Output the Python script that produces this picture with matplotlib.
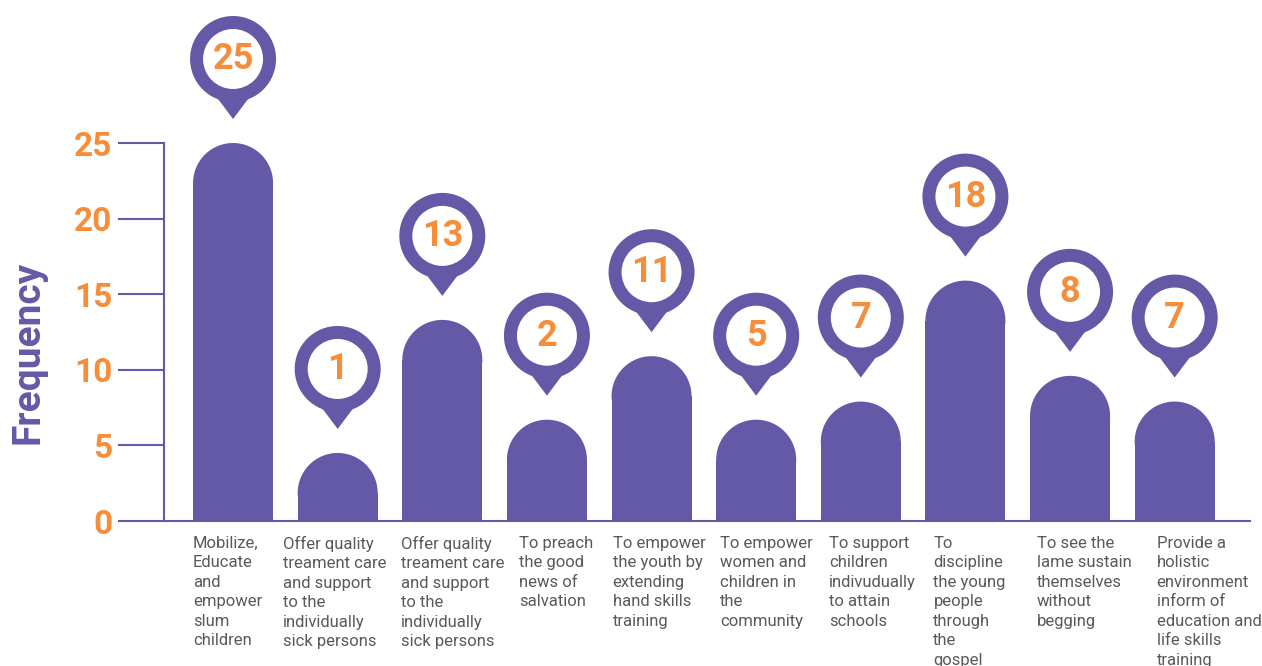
import numpy as np
import matplotlib.pyplot as plt
from matplotlib.patches import Ellipse, Polygon

purple = '#6459a6'
orange = '#f68d3b'
grey = '#58595b'

categories = [
    "Mobilize,\nEducate\nand\nempower\nslum\nchildren",
    "Offer quality\ntreament care\nand support\nto the\nindividually\nsick persons",
    "Offer quality\ntreament care\nand support\nto the\nindividually\nsick persons",
    "To preach\nthe good\nnews of\nsalvation",
    "To empower\nthe youth by\nextending\nhand skills\ntraining",
    "To empower\nwomen and\nchildren in\nthe\ncommunity",
    "To support\nchildren\nindivudually\nto attain\nschools",
    "To\ndiscipline\nthe young\npeople\nthrough\nthe\ngospel",
    "To see the\nlame sustain\nthemselves\nwithout\nbegging",
    "Provide a\nholistic\nenvironment\ninform of\neducation and\nlife skills\ntraining",
]
freq = [25, 1, 13, 2, 11, 5, 7, 18, 8, 7]
# drawn height of each bar as it appears in the picture
bar_height = [25.0, 4.5, 13.3, 6.7, 10.9, 6.7, 7.9, 15.9, 9.6, 7.9]
yticks = [0, 5, 10, 15, 20, 25]

plt.rcParams['font.family'] = ['Roboto', 'DejaVu Sans']

W, H = 1262, 666
fig = plt.figure(figsize=(W / 100, H / 100), dpi=100)
left, right, top, bottom = 164, 1250, 143, 521
ax = fig.add_axes([left / W, (H - bottom) / H, (right - left) / W, (bottom - top) / H])
xmin, xmax = -0.66, 9.72
ax.set_xlim(xmin, xmax)
ax.set_ylim(0, 25)
px_x = (right - left) / (xmax - xmin)
px_y = (bottom - top) / 25.0

x = np.arange(len(freq))
bw = 80 / px_x
cap = 40 / px_y
h = np.array(bar_height)

# bars with round tops (half-ellipse cap on a shorter bar)
ax.bar(x, h - cap, width=bw, color=purple, lw=0, zorder=2)
t = np.linspace(0, np.pi, 60)
for xi, hi in zip(x, h):
    base = hi - cap
    pts = np.column_stack([xi + bw / 2 * np.cos(t), base + cap * np.sin(t)])
    # run the cap a few pixels down into the bar so no seam shows
    pts = np.vstack([[xi + bw / 2, base - 3 / px_y], pts, [xi - bw / 2, base - 3 / px_y]])
    ax.add_patch(Polygon(pts, closed=True, color=purple, lw=0, zorder=2, clip_on=False))

# map-pin markers with the frequency
for xi, hi, f in zip(x, h, freq):
    cy = hi + 84 / px_y
    ro, ri = 43, 30
    tri = [(xi - 18 / px_x, cy - 36 / px_y), (xi + 18 / px_x, cy - 36 / px_y),
           (xi, cy - 60 / px_y)]
    ax.add_patch(Polygon(tri, closed=True, color=purple, lw=0, zorder=3, clip_on=False))
    ax.add_patch(Ellipse((xi, cy), 2 * ro / px_x, 2 * ro / px_y, color=purple, lw=0,
                         zorder=3, clip_on=False))
    ax.add_patch(Ellipse((xi, cy), 2 * ri / px_x, 2 * ri / px_y, color='white', lw=0,
                         zorder=4, clip_on=False))
    ax.text(xi, cy, str(f), ha='center', va='center', fontsize=26,
            fontweight='bold', color=orange, zorder=5, clip_on=False)

# category labels under the axis
label_nudge = [0, -15, -1, 12, 1, 4, 8, 8, 7, 22]
for xi, lab, dx in zip(x, categories, label_nudge):
    ax.text(xi + (dx - 40) / px_x, -15 / px_y, lab, ha='left', va='top',
            fontsize=12, color=grey, linespacing=1.37, clip_on=False)

for s in ['top', 'right']:
    ax.spines[s].set_visible(False)
for s in ['left', 'bottom']:
    ax.spines[s].set_color(purple)
    ax.spines[s].set_linewidth(1.5)

ax.set_xticks([])
ax.set_yticks(yticks)
ax.tick_params(axis='y', direction='out', length=33, width=1.5, color=purple,
               pad=4, labelsize=24, labelcolor=orange)
for lbl in ax.get_yticklabels():
    lbl.set_fontweight('bold')

ax.set_ylabel('Frequency', fontsize=28, fontweight='bold', color=purple)
ax.yaxis.set_label_coords(-0.108, 0.447)

fig.savefig('out.png', dpi=100)
